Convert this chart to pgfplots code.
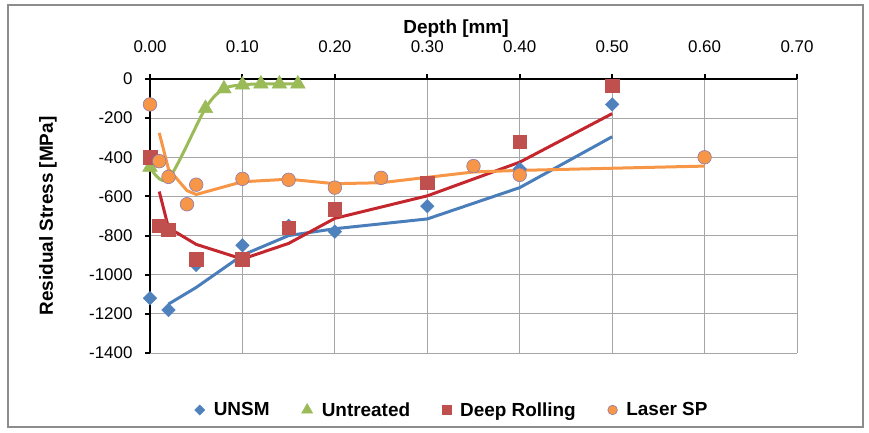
\documentclass[border=0pt]{standalone}
\usepackage{fontspec}
\setmainfont{Liberation Sans}
\usepackage{pgfplots}
\pgfplotsset{compat=1.18}
\definecolor{cblue}{HTML}{4F81BD}
\definecolor{cbline}{HTML}{4A7EBB}
\definecolor{cgreen}{HTML}{9BBB59}
\definecolor{cred}{HTML}{C0504D}
\definecolor{crline}{HTML}{C4262E}
\definecolor{corange}{HTML}{F79646}
\definecolor{cpurp}{HTML}{8C7BB0}
\definecolor{gridc}{HTML}{A6A6A6}
\definecolor{framec}{HTML}{8C8C8C}
\begin{document}
\begin{tikzpicture}[x=1bp,y=1bp]
\useasboundingbox (0,0) rectangle (869,432);
\draw[color=framec, line width=1.2bp] (8,5) rectangle (863,427);
\begin{axis}[
  at={(150bp,79bp)}, anchor=south west,
  width=647bp, height=274bp, scale only axis,
  xmin=0, xmax=0.7, ymin=-1400, ymax=0,
  axis x line*=top, axis y line*=left,
  xtick={0,0.1,0.2,0.3,0.4,0.5,0.6,0.7},
  ytick={-1400,-1200,-1000,-800,-600,-400,-200,0},
  scaled x ticks=false,
  xticklabel style={/pgf/number format/fixed, /pgf/number format/fixed zerofill, /pgf/number format/precision=2, anchor=south},
  yticklabel style={/pgf/number format/set thousands separator={}},
  /pgf/number format/assume math mode=true,
  ticklabel style={font=\fontsize{17}{20}\selectfont},
  xticklabel shift={18bp},
  yticklabel shift={9bp},
  grid=major,
  major grid style={color=gridc, line width=1bp},
  axis line style={-, black, line width=2.2bp},
  tick style={black, line width=2bp},
  major tick length=5bp,
  tick align=outside,
  xlabel={Depth [mm]},
  ylabel={Residual Stress [MPa]},
  every axis x label/.style={at={(rel axis cs:0.473,1.183)}, anchor=center, font=\bfseries\fontsize{19}{22}\selectfont},
  every axis y label/.style={at={(rel axis cs:-0.1577,0.5)}, anchor=center, rotate=90, font=\bfseries\fontsize{19}{22}\selectfont},
  legend columns=4,
  legend style={at={(rel axis cs:0.4668,-0.208)}, anchor=center, draw=none, fill=none,
    font=\bfseries\fontsize{19}{22}\selectfont,
    /tikz/every odd column/.append style={column sep=7bp},
    /tikz/every even column/.append style={column sep=30bp}},
  legend image code/.code={\draw[#1] plot coordinates {(0bp,0bp)};},
  clip=false,
]
% markers
\addplot[only marks, mark=square*, mark size=4.8bp, mark options={rotate=45, fill=cblue, draw=cblue},
  legend image post style={mark size=3.6bp}]
 coordinates {(0,-1120) (0.02,-1180) (0.05,-950) (0.10,-850) (0.15,-750) (0.20,-780) (0.30,-650) (0.40,-460) (0.50,-130)};
\addlegendentry{UNSM}
\addplot[only marks, mark=triangle*, mark size=8.5bp, mark options={fill=cgreen, draw=cgreen},
  legend image post style={mark size=6.5bp}]
 coordinates {(0,-450) (0.06,-150) (0.08,-50) (0.10,-30) (0.12,-25) (0.14,-25) (0.16,-25)};
\addlegendentry{Untreated}
\addplot[only marks, mark=square*, mark size=6.8bp, mark options={fill=cred, draw=cred},
  legend image post style={mark size=4.5bp}]
 coordinates {(0,-400) (0.01,-750) (0.02,-770) (0.05,-920) (0.10,-920) (0.15,-760) (0.20,-665) (0.30,-530) (0.40,-320) (0.50,-35)};
\addlegendentry{Deep Rolling}
\addplot[only marks, mark=*, mark size=6.8bp, mark options={fill=corange, draw=cpurp, line width=0.6bp},
  legend image post style={mark size=4.8bp}]
 coordinates {(0,-130) (0.01,-420) (0.02,-500) (0.04,-640) (0.05,-540) (0.10,-510) (0.15,-515) (0.20,-555) (0.25,-505) (0.35,-445) (0.40,-490) (0.60,-400)};
\addlegendentry{Laser SP}
% lines
\addplot[forget plot, no marks, color=cbline, line width=3bp]
 coordinates {(0.02,-1150) (0.05,-1065) (0.10,-900) (0.15,-800) (0.20,-765) (0.30,-715) (0.40,-555) (0.50,-295)};
\addplot[forget plot, no marks, color=cgreen, line width=3bp, smooth, tension=0.5]
 coordinates {(0,-450) (0.02,-510) (0.06,-150) (0.08,-50) (0.10,-30) (0.12,-25) (0.14,-25) (0.16,-25)};
\addplot[forget plot, no marks, color=crline, line width=3bp]
 coordinates {(0.01,-575) (0.02,-760) (0.05,-845) (0.10,-920) (0.15,-840) (0.20,-712) (0.30,-597) (0.40,-425) (0.50,-177)};
\addplot[forget plot, no marks, color=corange, line width=3bp]
 coordinates {(0.01,-275) (0.02,-460) (0.04,-570) (0.05,-590) (0.10,-525) (0.15,-512) (0.20,-535) (0.25,-530) (0.35,-475) (0.40,-467) (0.60,-445)};
\end{axis}
\end{tikzpicture}
\end{document}
